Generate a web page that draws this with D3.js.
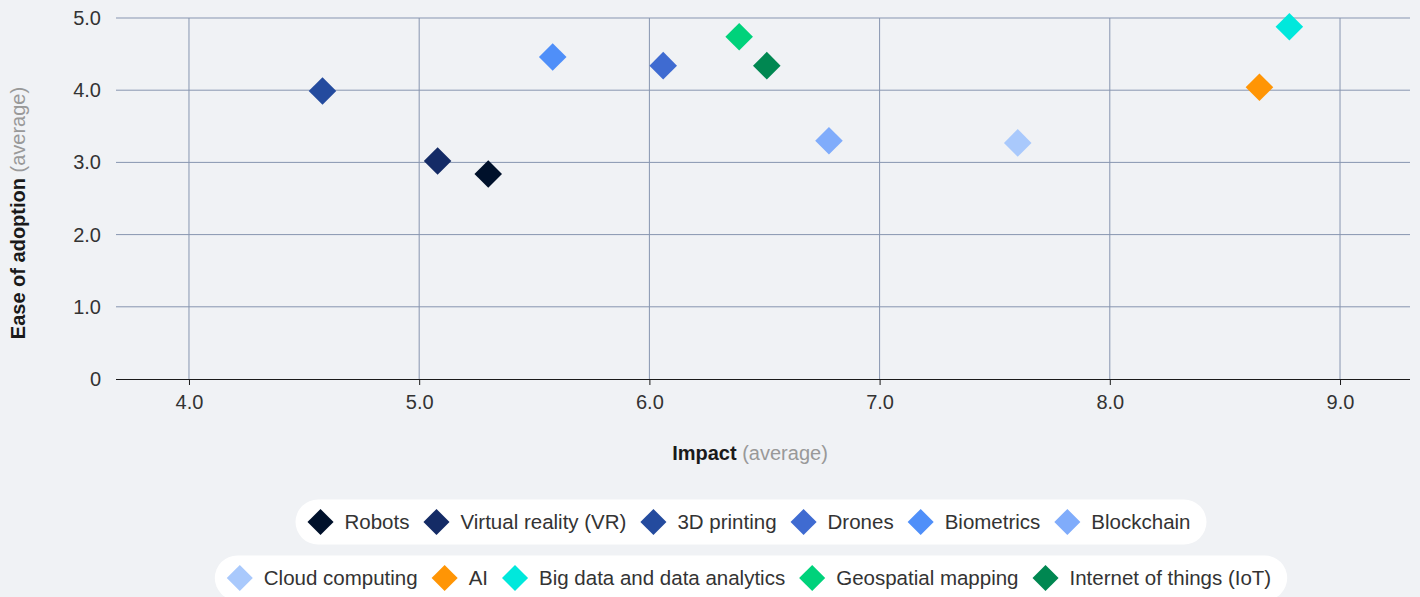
<!DOCTYPE html>
<html>
<head>
<meta charset="utf-8">
<script src="https://cdn.jsdelivr.net/npm/d3@7"></script>
<style>
  body { margin: 0; background: #f0f2f5; }
  svg { display: block; font-family: "Liberation Sans", Arial, sans-serif; }
</style>
</head>
<body>
<div id="chart"></div>
<script>
// data
const names = ["Robots", "Virtual reality (VR)", "3D printing", "Drones", "Biometrics", "Blockchain",
  "Cloud computing", "AI", "Big data and data analytics", "Geospatial mapping", "Internet of things (IoT)"];
const impact = [5.30, 5.08, 4.58, 6.06, 5.58, 6.78, 7.60, 8.65, 8.78, 6.39, 6.51];
const ease = [2.84, 3.02, 3.99, 4.34, 4.46, 3.30, 3.27, 4.04, 4.88, 4.74, 4.34];
const colors = ["#00112b", "#142b66", "#244b9e", "#3f6bd1", "#4f8ff9", "#80acfb",
  "#a9c9fc", "#ff9505", "#00e8dc", "#00d27b", "#008751"];
const xTicks = [4, 5, 6, 7, 8, 9];
const yTicks = [0, 1, 2, 3, 4, 5];
const legendRows = [[0, 1, 2, 3, 4, 5], [6, 7, 8, 9, 10]];

let W = 1420, H = 597;
let margin = {top: 18, right: 10, bottom: 218, left: 116},
    width = W - margin.left - margin.right,
    height = H - margin.top - margin.bottom;

let svg = d3.select("#chart").append("svg")
    .attr("width", W)
    .attr("height", H);

let g = svg.append("g")
    .attr("transform", "translate(" + margin.left + "," + margin.top + ")");

let x = d3.scaleLinear().domain([3.683, 9.304]).range([0, width]);
let y = d3.scaleLinear().domain([0, 5]).range([height, 0]);

// grid
g.append("g").selectAll("line").data(yTicks.filter(d => d > 0)).join("line")
    .attr("x1", 0).attr("x2", width)
    .attr("y1", d => y(d)).attr("y2", d => y(d))
    .style("stroke", "#8795b0").style("stroke-width", 1);
g.append("g").selectAll("line").data(xTicks).join("line")
    .attr("x1", d => x(d)).attr("x2", d => x(d))
    .attr("y1", 0).attr("y2", height)
    .style("stroke", "#8795b0").style("stroke-width", 1);

// x axis
let xAxis = d3.axisBottom(x).tickValues(xTicks).tickFormat(d3.format(".1f")).tickSize(6).tickPadding(10);
let gx = g.append("g")
    .attr("transform", "translate(0," + height + ")")
    .call(xAxis);
gx.select(".domain").attr("d", "M0,0.5H" + width).style("stroke", "#1a1a1a");
gx.selectAll(".tick line").style("stroke", "#1a1a1a");
gx.selectAll("text").style("font-size", "20px").style("fill", "#333").style("font-family", "inherit");

// y axis
let yAxis = d3.axisLeft(y).tickValues(yTicks).tickFormat(d => d === 0 ? "0" : d3.format(".1f")(d)).tickSize(0).tickPadding(15);
let gy = g.append("g").call(yAxis);
gy.select(".domain").remove();
gy.selectAll("text").style("font-size", "20px").style("fill", "#333").style("font-family", "inherit");

// axis titles
let xt = svg.append("text")
    .attr("x", 750).attr("y", 460)
    .attr("text-anchor", "middle")
    .style("font-size", "20px");
xt.append("tspan").text("Impact").style("font-weight", "bold").style("fill", "#1a1a1a");
xt.append("tspan").text(" (average)").style("fill", "#999");

let yt = svg.append("text")
    .attr("transform", "translate(25,213) rotate(-90)")
    .attr("text-anchor", "middle")
    .style("font-size", "20px");
yt.append("tspan").text("Ease of adoption").style("font-weight", "bold").style("fill", "#1a1a1a");
yt.append("tspan").text(" (average)").style("fill", "#999");

// points
let diamond = d3.symbol().type(d3.symbolSquare).size(380);
g.append("g").selectAll("path").data(names).join("path")
    .attr("d", diamond)
    .attr("transform", (d, i) => "translate(" + x(impact[i]) + "," + y(ease[i]) + ") rotate(45)")
    .style("fill", (d, i) => colors[i]);

// legend
let rowY = [522, 578];
let legendSymbol = d3.symbol().type(d3.symbolSquare).size(340);
legendRows.forEach(function(row, r) {
    let lg = svg.append("g");
    let pill = lg.append("rect").style("fill", "#fff");
    let items = lg.selectAll("g.item").data(row).join("g").attr("class", "item");
    items.append("path").attr("d", legendSymbol)
        .attr("transform", "rotate(45)")
        .style("fill", d => colors[d]);
    items.append("text").text(d => names[d])
        .attr("x", 24).attr("dy", "0.35em")
        .style("font-size", "20.5px").style("fill", "#333");
    let cx = 0, positions = [];
    items.each(function(d) {
        let w = d3.select(this).select("text").node().getComputedTextLength();
        positions.push(cx);
        cx += 13 + 24 + w + 14;
    });
    let total = cx - 14 + 16 + 12;
    let left = 751 - total / 2;
    items.attr("transform", (d, i) => "translate(" + (left + 12 + 13 + positions[i]) + "," + rowY[r] + ")");
    pill.attr("x", left).attr("y", rowY[r] - 22.5)
        .attr("width", total).attr("height", 45)
        .attr("rx", 22.5);
});
</script>
</body>
</html>
